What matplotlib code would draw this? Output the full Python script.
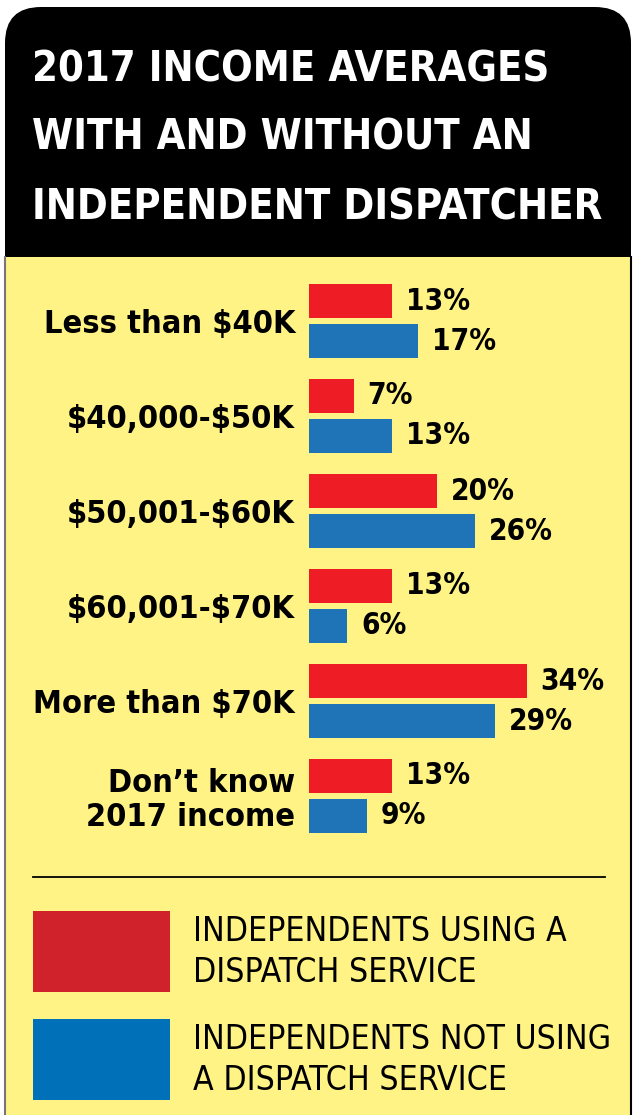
import matplotlib.pyplot as plt
from matplotlib.patches import FancyBboxPatch, Rectangle
import numpy as np

plt.rcParams["text.parse_math"] = False

# data
categories = [
    "Less than $40K",
    "$40,000-$50K",
    "$50,001-$60K",
    "$60,001-$70K",
    "More than $70K",
    "Don\u2019t know\n2017 income",
]
using_dispatch = [13, 7, 20, 13, 34, 13]
not_using_dispatch = [17, 13, 26, 6, 29, 9]
series_labels = [
    "INDEPENDENTS USING A\nDISPATCH SERVICE",
    "INDEPENDENTS NOT USING\nA DISPATCH SERVICE",
]
title_lines = ["2017 INCOME AVERAGES", "WITH AND WITHOUT AN", "INDEPENDENT DISPATCHER"]

YELLOW = "#FFF385"
RED = "#EE1C25"
BLUE = "#1F73B7"
RED_KEY = "#D0222A"
BLUE_KEY = "#0071B8"
FONT = dict(family="DejaVu Sans", fontstretch="condensed")

W, H = 636, 1115
fig = plt.figure(figsize=(W / 100, H / 100), dpi=100)
fig.patch.set_facecolor("white")
renderer = fig.canvas.get_renderer()


def fit_size(strings, target_px, weight="normal", start=20):
    # font size so that the widest of the strings is target_px wide
    widest = 0
    for s in strings:
        t = fig.text(0, 0, s, fontsize=start, fontweight=weight, **FONT)
        widest = max(widest, t.get_window_extent(renderer).width)
        t.remove()
    return start * target_px / widest


# background in pixel coordinates
bg = fig.add_axes([0, 0, 1, 1])
bg.set_xlim(0, W)
bg.set_ylim(H, 0)
bg.axis("off")

bg.add_patch(Rectangle((5, 100), 626, H - 100 + 5, facecolor=YELLOW,
                       edgecolor="none", zorder=0))
bg.add_patch(FancyBboxPatch((5, 7), 626, 300, boxstyle="round,pad=0,rounding_size=36",
                            facecolor="black", edgecolor="none", zorder=2))
bg.add_patch(Rectangle((4, 257), 628, 80, facecolor=YELLOW, edgecolor="none", zorder=3))
bg.plot([5, 5], [257, H], color="#777777", lw=1.5, zorder=3)
bg.plot([631, 631], [257, H], color="black", lw=1.5, zorder=3)

title_size = fit_size(title_lines, 570, weight="heavy")
for i, line in enumerate(title_lines):
    bg.text(32, 81 + i * 69, line, color="white", fontsize=title_size, fontweight="heavy",
            ha="left", va="baseline", zorder=4, **FONT)

# legend area
bg.plot([33, 605], [877, 877], color="black", lw=1.3, zorder=4)
key_colors = [RED_KEY, BLUE_KEY]
key_size = fit_size([s for lab in series_labels for s in lab.split("\n")], 418)
for i, (lab, col) in enumerate(zip(series_labels, key_colors)):
    top = 911 + i * 108
    bg.add_patch(Rectangle((33, top), 137, 81, facecolor=col, edgecolor="none", zorder=4))
    bg.text(193, top + 41, lab, fontsize=key_size, color="black",
            ha="left", va="center", linespacing=1.3, zorder=4, **FONT)

# bar chart axes: group centres at 321 + 95*k px, 6.4 px per percent
px_per_pct = 6.4
x0, x1 = 309, 630
top_px, bot_px = 273.5, 273.5 + 6 * 95
ax = fig.add_axes([x0 / W, 1 - bot_px / H, (x1 - x0) / W, (bot_px - top_px) / H])
ax.set_facecolor("none")
ax.set_xlim(0, (x1 - x0) / px_per_pct)
ax.set_ylim(5.5, -0.5)

y = np.arange(len(categories))
bh = 34 / 95
off = 20 / 95
b1 = ax.barh(y - off, using_dispatch, height=bh, color=RED)
b2 = ax.barh(y + off, not_using_dispatch, height=bh, color=BLUE)
val_size = fit_size(["34%"], 64, weight="bold")
for bars in (b1, b2):
    ax.bar_label(bars, labels=[f"{v:g}%" for v in bars.datavalues], padding=10,
                 fontsize=val_size, fontweight="bold", **FONT)

cat_size = fit_size([s for c in categories for s in c.split("\n")], 262, weight="bold")
ax.set_yticks(y)
ax.set_yticklabels(categories, fontsize=cat_size, fontweight="bold", linespacing=1.1, **FONT)
ax.tick_params(axis="y", length=0, pad=10)
ax.set_xticks([])
for s in ax.spines.values():
    s.set_visible(False)

fig.savefig("out.png", dpi=100, facecolor="white")
